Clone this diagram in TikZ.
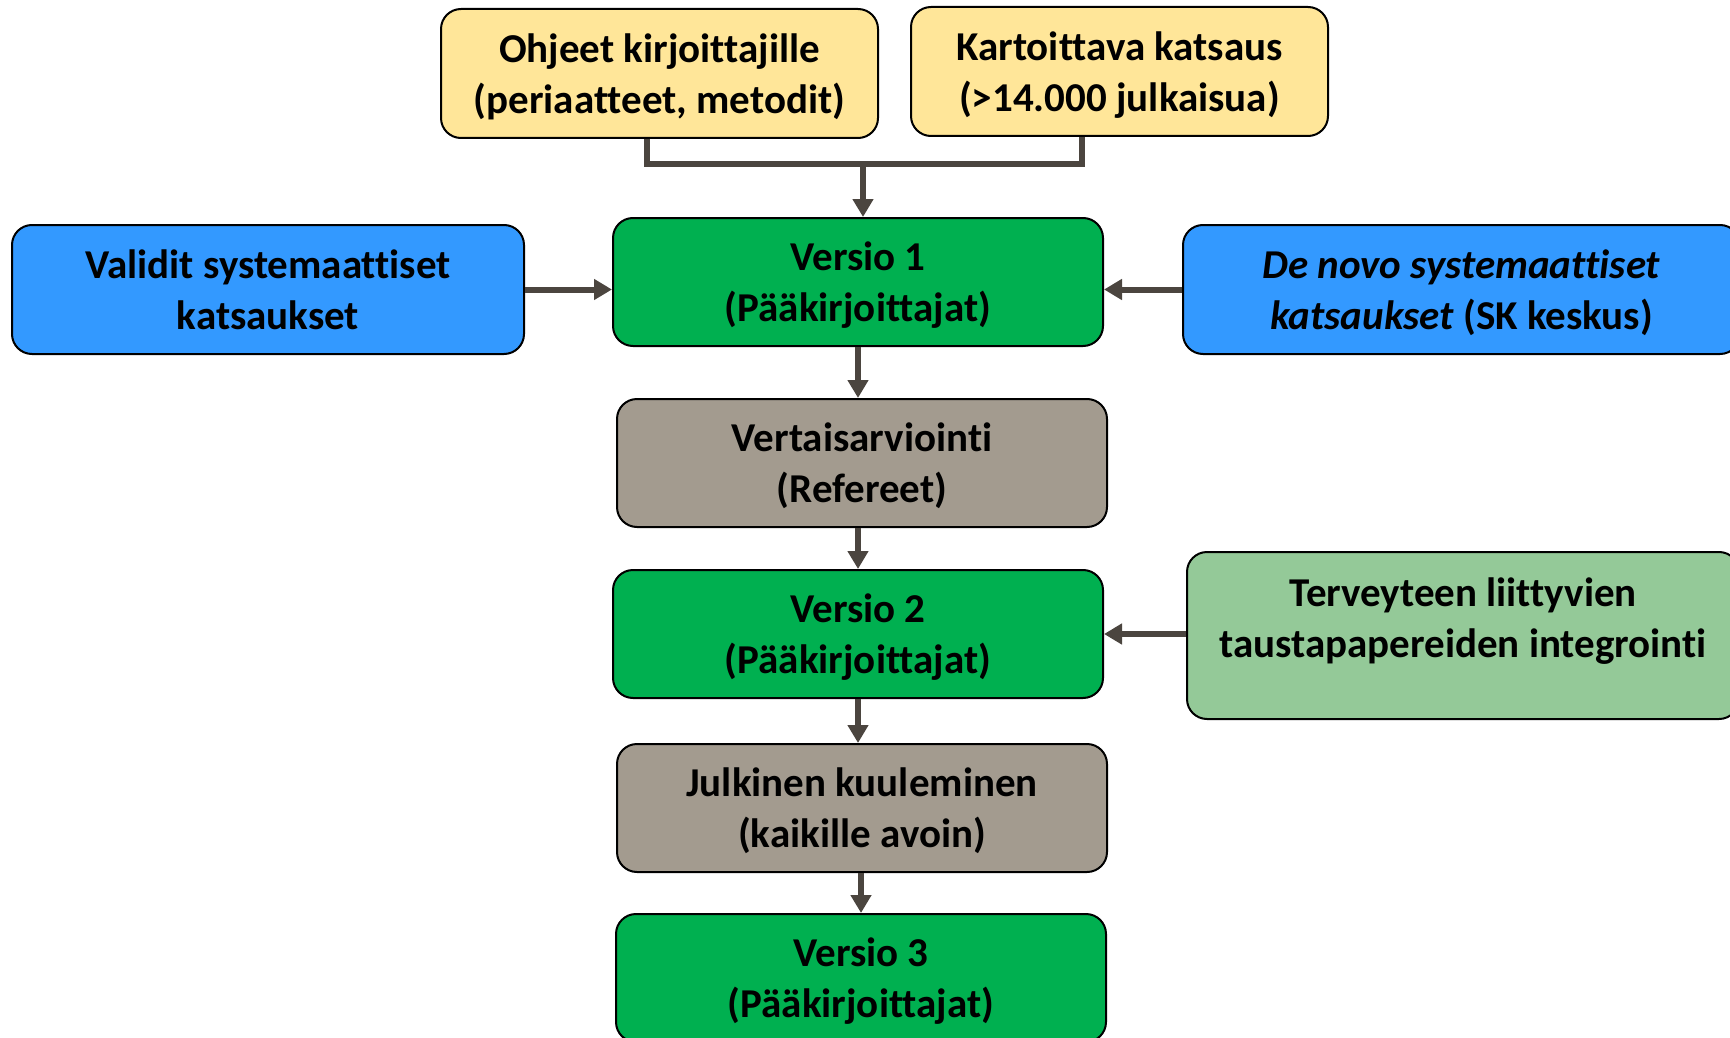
\documentclass[tikz,border=0pt]{standalone}
\usepackage{fontspec}
\setmainfont{Carlito}[Ligatures={NoCommon,NoDiscretionary}]
\usetikzlibrary{arrows.meta}
\definecolor{cyellow}{HTML}{FFE699}
\definecolor{cblue}{HTML}{3399FF}
\definecolor{cgreen}{HTML}{00B050}
\definecolor{cgray}{HTML}{A39B8F}
\definecolor{clgreen}{HTML}{94C998}
\definecolor{carrow}{HTML}{4B453F}
\tikzset{
  box/.style={draw=black, line width=2pt, rounded corners=20pt, inner sep=0pt, text depth=0pt,
    align=center, font=\fontsize{41}{51}\selectfont\bfseries, text=black},
  txt/.style={inner sep=0pt, align=center, font=\fontsize{41}{51}\selectfont\bfseries, text=black},
  conn/.style={draw=carrow, line width=6pt},
  arr/.style={conn, -{Triangle[length=18pt,width=20pt]}}
}
\begin{document}
\begin{tikzpicture}[x=1pt,y=-1pt]
\useasboundingbox (0,0) rectangle (1730,1038);
\clip (0,0) rectangle (1730,1038);
\node[box, fill=cyellow, minimum width=437pt, minimum height=129pt] (ohj) at (659.5,73.5) {Ohjeet kirjoittajille\\(periaatteet, metodit)};
\node[box, fill=cyellow, minimum width=417pt, minimum height=129pt] (kart) at (1119.5,71.5) {Kartoittava katsaus\\(>14.000 julkaisua)};
\node[box, fill=cblue, minimum width=512pt, minimum height=129pt] (val) at (268,289.5) {Validit systemaattiset\\katsaukset};
\node[box, fill=cgreen, minimum width=490pt, minimum height=128pt] (v1) at (858,282) {Versio 1\\(Pääkirjoittajat)};
\node[box, fill=cblue, minimum width=557pt, minimum height=129pt] (deno) at (1461.5,289.5) {\textit{De novo systemaattiset}\\\textit{katsaukset} (SK keskus)};
\node[box, fill=cgray, minimum width=490pt, minimum height=128pt] (vert) at (862,463) {Vertaisarviointi\\(Refereet)};
\node[box, fill=cgreen, minimum width=490pt, minimum height=128pt] (v2) at (858,634) {Versio 2\\(Pääkirjoittajat)};
\node[box, fill=clgreen, minimum width=552pt, minimum height=167pt] (terv) at (1463,635.5) {};
\node[txt] (tervtext) at (1463,621) {Terveyteen liittyvien\\taustapapereiden integrointi};
\node[box, fill=cgray, minimum width=490pt, minimum height=128pt] (jul) at (862,808) {Julkinen kuuleminen\\(kaikille avoin)};
\node[box, fill=cgreen, minimum width=490pt, minimum height=128pt] (v3) at (861,978) {Versio 3\\(Pääkirjoittajat)};
\coordinate (ja) at (647,164);
\coordinate (jb) at (1082,164);
\coordinate (jm) at (863,164);
\draw[conn] (ohj.south -| ja) -- (ja) -- (jb) -- (kart.south -| jb);
\draw[arr] (jm) -- (v1.north -| jm);
\draw[arr] (val.east) -- (val.east -| v1.west);
\draw[arr] (deno.west) -- (deno.west -| v1.east);
\draw[arr] (terv.west |- v2.east) -- (v2.east);
\draw[arr] (v1.south) -- (v1.south |- vert.north);
\draw[arr] (v2.north |- vert.south) -- (v2.north);
\draw[arr] (v2.south) -- (v2.south |- jul.north);
\draw[arr] (v3.north |- jul.south) -- (v3.north);
\end{tikzpicture}
\end{document}
